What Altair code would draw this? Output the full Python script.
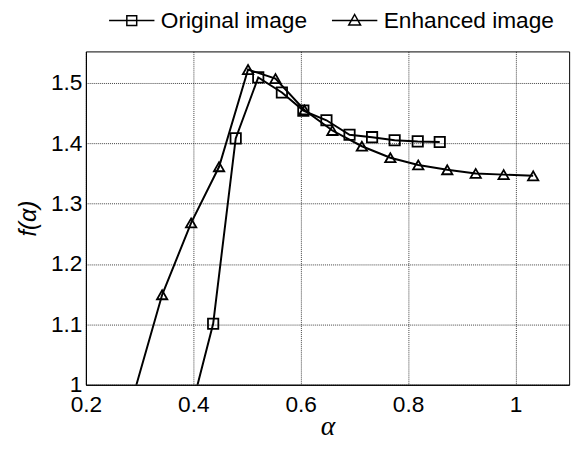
import altair as alt
import pandas as pd

series_names = ["Original image", "Enhanced image"]

orig_alpha = [0.3935, 0.437, 0.479, 0.521, 0.565, 0.605, 0.648, 0.691, 0.733, 0.775, 0.818, 0.859]
orig_f = [0.95, 1.101, 1.408, 1.509, 1.484, 1.454, 1.438, 1.414, 1.410, 1.405, 1.403, 1.402]

enh_alpha = [0.278, 0.342, 0.396, 0.448, 0.502, 0.553, 0.607, 0.659, 0.714, 0.767, 0.819, 0.873, 0.926, 0.978, 1.033]
enh_f = [0.95, 1.149, 1.268, 1.361, 1.522, 1.507, 1.455, 1.421, 1.395, 1.376, 1.364, 1.356, 1.350, 1.348, 1.346]

x_ticks = [0.2, 0.4, 0.6, 0.8, 1.0]
y_ticks = [1.0, 1.1, 1.2, 1.3, 1.4, 1.5]

rows = []
for a, f in zip(orig_alpha, orig_f):
    rows.append({"alpha": a, "f": f, "series": series_names[0]})
for a, f in zip(enh_alpha, enh_f):
    rows.append({"alpha": a, "f": f, "series": series_names[1]})
df = pd.DataFrame(rows)

FONT = "Liberation Sans"

x_enc = alt.X(
    "alpha:Q",
    scale=alt.Scale(domain=[0.2, 1.1], nice=False, zero=False),
    axis=alt.Axis(
        values=x_ticks, format="~g", title="α", labelFlush=False,
        titleFont="Liberation Serif", titleFontStyle="italic", titleFontSize=28,
        titleFontWeight="normal", titleBaseline="alphabetic", titleY=50,
    ),
)
y_enc = alt.Y(
    "f:Q",
    scale=alt.Scale(domain=[1.0, 1.552], nice=False, zero=False),
    axis=alt.Axis(
        values=y_ticks, format="~g", title="f(α)", labelFlush=False,
        titleFont=FONT, titleFontStyle="italic", titleFontSize=24,
        titleFontWeight="normal", titleBaseline="middle", titleX=-58, titleY=169,
        titleAngle=270,
    ),
)

lines = alt.Chart(df).mark_line(color="black", strokeWidth=2, clip=True).encode(
    x=x_enc, y=y_enc, detail="series:N"
)

points = alt.Chart(df).mark_point(
    color="black", filled=False, strokeWidth=1.8, size=110, clip=True, opacity=1
).encode(
    x="alpha:Q",
    y="f:Q",
    shape=alt.Shape(
        "series:N",
        scale=alt.Scale(domain=series_names, range=["square", "triangle-up"]),
        legend=None,
    ),
)

# symbol size 400 -> unit = 10px; line spans +-23px
legend_paths = [
    "M-2.3,0L2.3,0M-0.5,-0.5L0.5,-0.5L0.5,0.5L-0.5,0.5Z",
    "M-2.3,0L2.3,0M0,-0.62L0.6,0.45L-0.6,0.45Z",
]

legend_layer = alt.Chart(df).transform_filter("false").mark_point(
    color="black", filled=False, strokeWidth=1.5
).encode(
    x="alpha:Q",
    y="f:Q",
    shape=alt.Shape(
        "series:N",
        scale=alt.Scale(domain=series_names, range=legend_paths),
        legend=alt.Legend(
            title=None, orient="none", direction="horizontal",
            legendX=35, legendY=-43,
            symbolSize=400, symbolStrokeWidth=1.5, symbolStrokeColor="black",
            symbolFillColor="transparent", symbolOpacity=1,
            labelFont=FONT, labelFontSize=23, labelColor="black", labelLimit=0,
            labelOffset=18, columnPadding=21,
        ),
    ),
)

chart = (
    alt.layer(lines, points, legend_layer)
    .resolve_scale(shape="independent")
    .properties(
        width=490,
        height=338,
        autosize=alt.AutoSizeParams(type="none"),
        padding={"left": 79, "top": 41, "right": 10, "bottom": 54},
        background="white",
    )
    .configure_view(stroke="black", strokeWidth=1)
    .configure_axis(
        labelFont=FONT, labelFontSize=23, labelColor="black",
        titleColor="black", domainColor="black", domainWidth=1,
        ticks=False, labelPadding=4,
        grid=True, gridColor="black", gridDash=[1, 1], gridOpacity=0.75, gridWidth=1,
    )
    .configure_axisX(labelPadding=9)
)

chart.save("out.html", embed_options={"renderer": "svg", "actions": False})
